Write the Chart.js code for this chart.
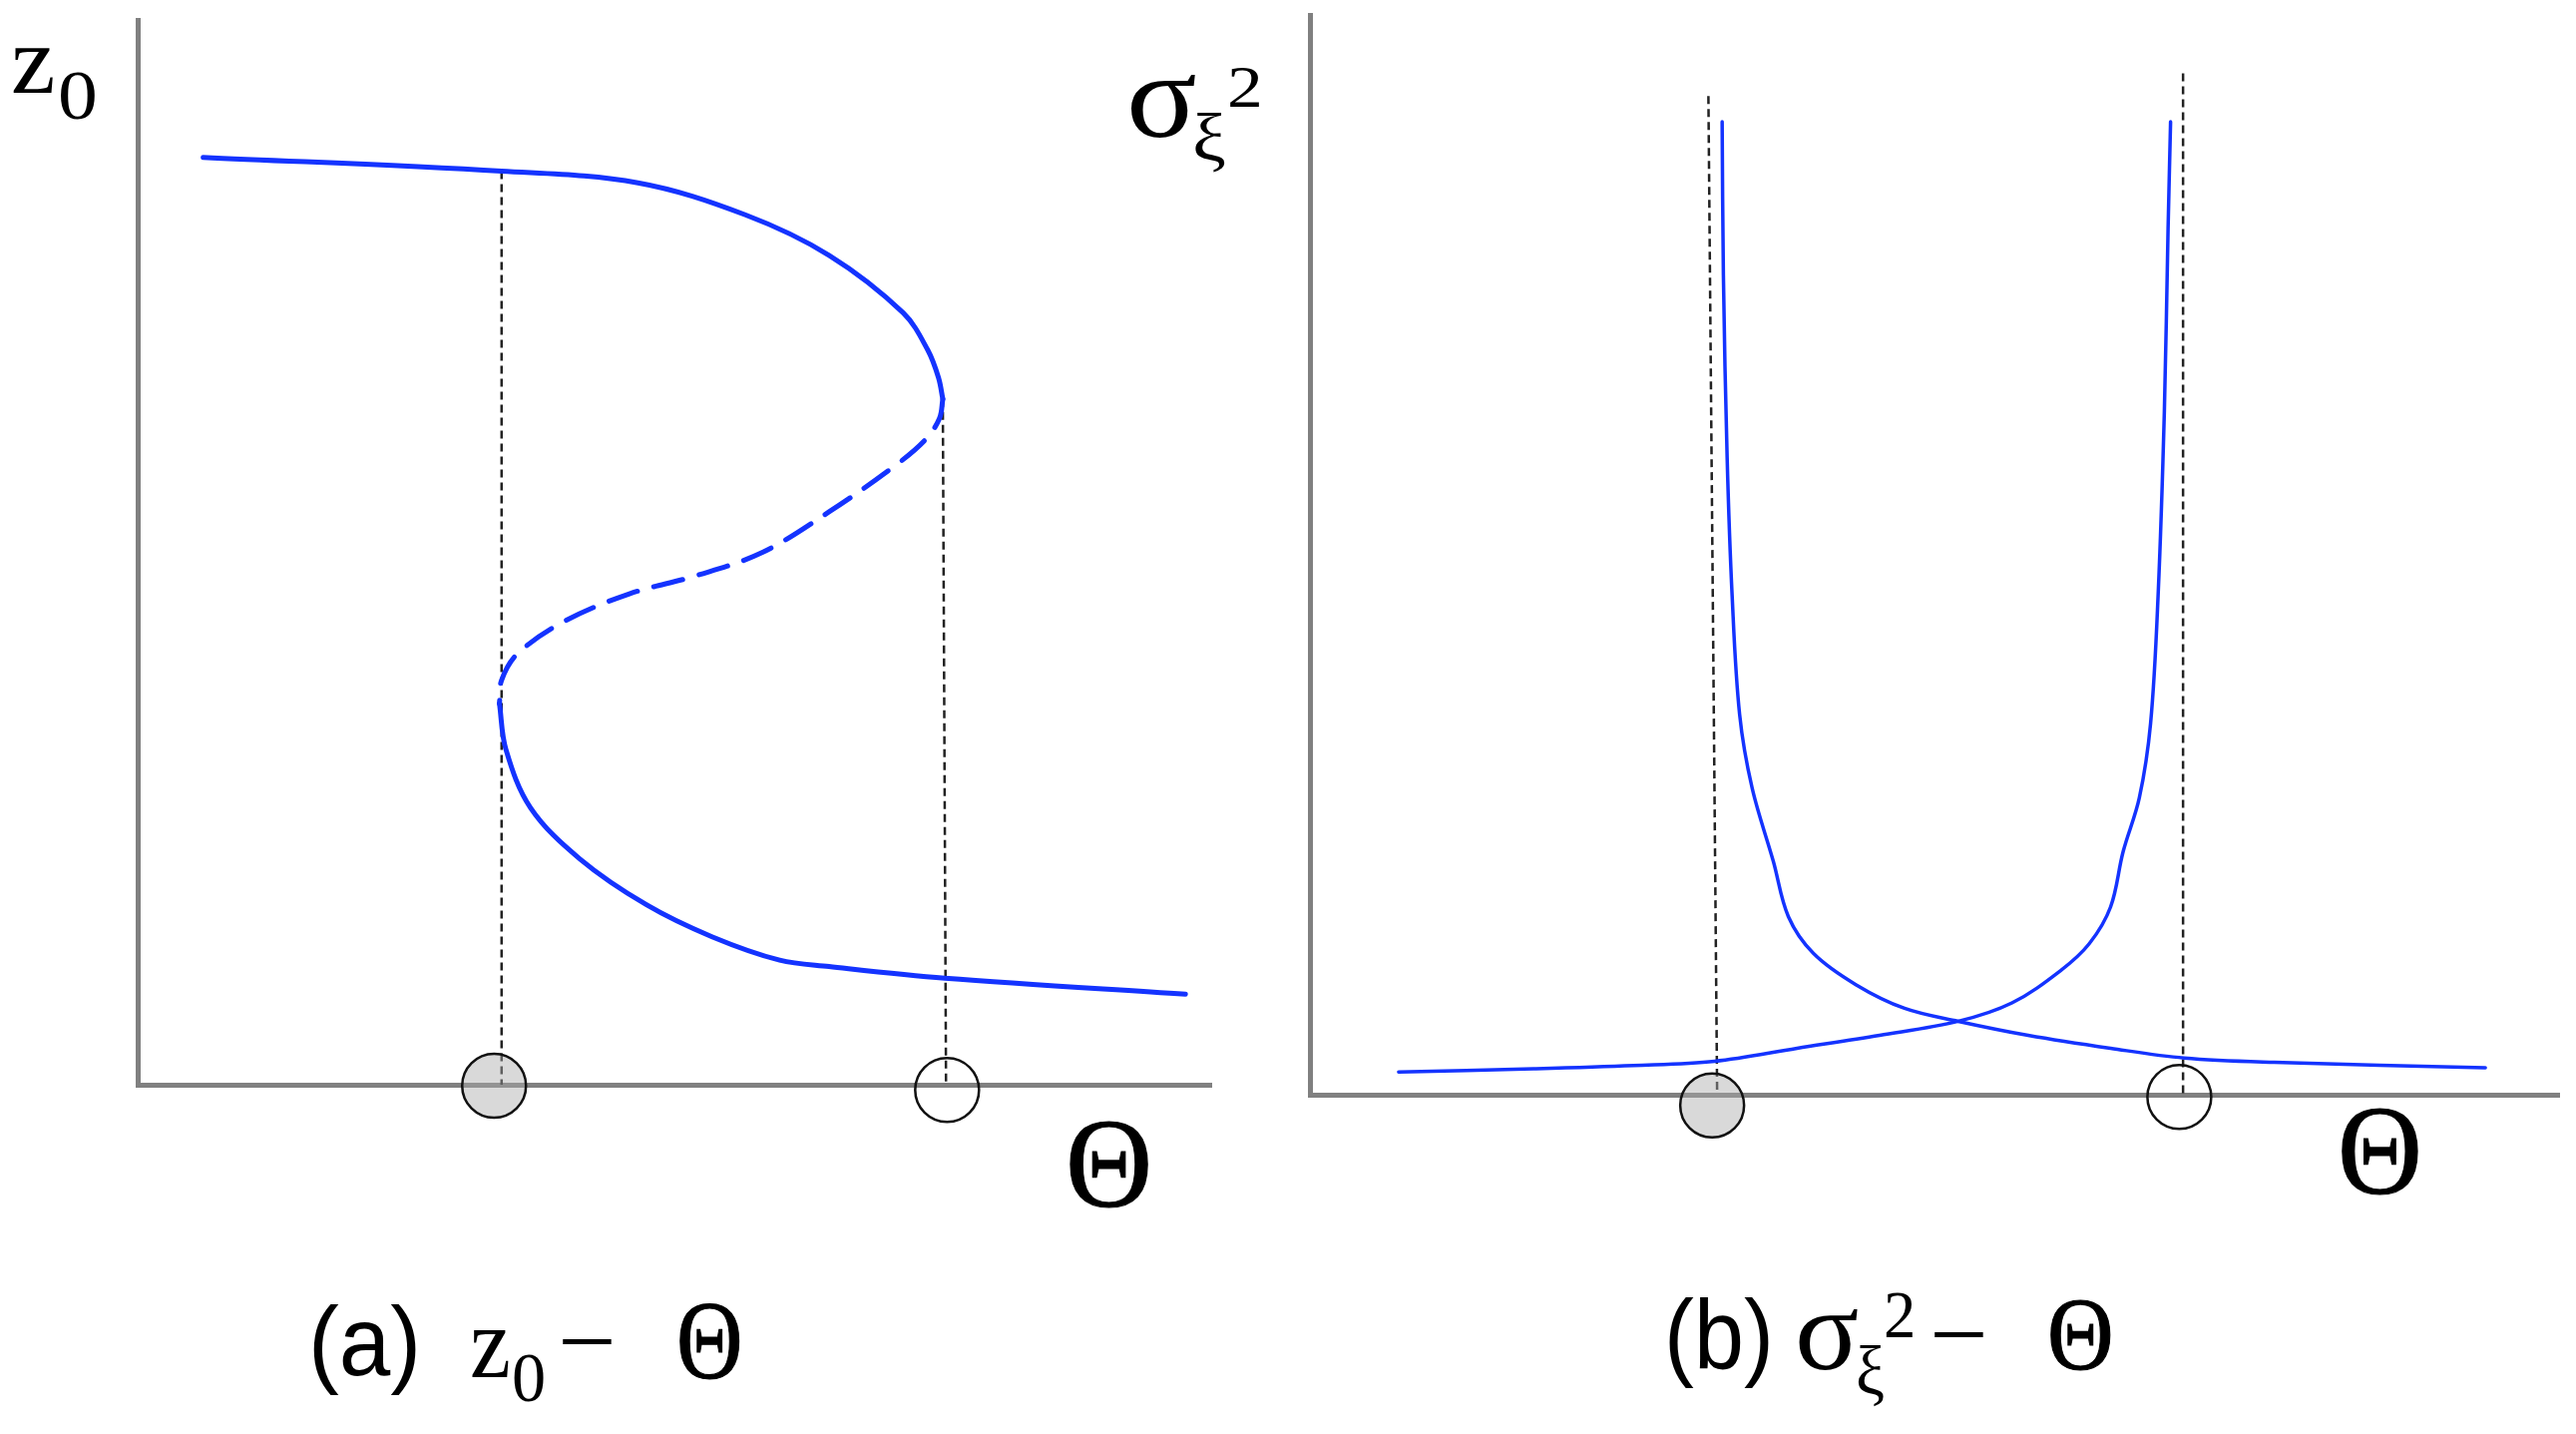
<!DOCTYPE html>
<html>
<head>
<meta charset="utf-8">
<script src="https://cdn.jsdelivr.net/npm/chart.js@4.4.1/dist/chart.umd.min.js"></script>
<style>
html,body{margin:0;padding:0;background:#fff;}
#wrap{position:relative;width:2582px;height:1437px;overflow:hidden;background:#fff;}
#wrap canvas{position:absolute;left:0;top:0;width:2582px;height:1437px;}
.t{position:absolute;white-space:pre;color:#000;transform-origin:0 0;margin:0;padding:0;}
.heavy{-webkit-text-stroke:1.2px #000;}
</style>
</head>
<body>
<div id="wrap">
<canvas id="chartA" width="2582" height="1437"></canvas>
<canvas id="chartB" width="2582" height="1437"></canvas>
</div>
<script>
// ---------- Panel (a): z0 versus Theta ----------
const upperTheta = [0.61, 3.39, 4.66, 5.66, 6.44, 7.13, 7.36, 7.46, 7.50];
const upperZ     = [8.71, 8.58, 8.47, 8.17, 7.79, 7.25, 6.90, 6.64, 6.44];

const midTheta = [7.50, 7.47, 7.34, 7.05, 6.44, 5.82, 5.20, 4.58, 3.97, 3.54, 3.39, 3.37];
const midZ     = [6.44, 6.26, 6.06, 5.81, 5.38, 5.00, 4.78, 4.61, 4.35, 4.05, 3.80, 3.58];

const lowerTheta = [3.37, 3.43, 3.66, 4.12, 4.74, 5.35, 5.98, 6.44, 7.52, 9.76];
const lowerZ     = [3.58, 3.15, 2.60, 2.12, 1.69, 1.39, 1.17, 1.11, 1.00, 0.85];

const guideATheta = [3.39, 3.39];
const guideAZ     = [8.58, 0.00];
const guideBTheta = [7.50, 7.53];
const guideBZ     = [6.44, 0.00];

const markTheta = [3.32, 7.54];
const markZ     = [-0.01, -0.05];

// ---------- Panel (b): sigma_xi^2 versus Theta ----------
const decTheta = [3.30, 3.31, 3.34, 3.38, 3.44, 3.54, 3.71, 3.83, 4.03, 4.37, 4.76, 5.19, 5.75, 6.41, 7.00, 7.72, 9.41];
const decSigma = [9.01, 7.59, 5.90, 4.62, 3.52, 2.84, 2.16, 1.65, 1.31, 1.02, 0.80, 0.68, 0.55, 0.43, 0.34, 0.30, 0.25];

const incTheta = [0.71, 1.79, 2.59, 3.24, 3.90, 4.56, 5.19, 5.62, 6.01, 6.24, 6.41, 6.51, 6.64, 6.73, 6.79, 6.84, 6.87, 6.89];
const incSigma = [0.21, 0.24, 0.27, 0.31, 0.43, 0.55, 0.68, 0.85, 1.15, 1.40, 1.74, 2.25, 2.75, 3.44, 4.62, 6.32, 8.02, 9.01];

const guideCTheta = [3.19, 3.26];
const guideCSigma = [9.25, 0.00];
const guideDTheta = [6.99, 6.99];
const guideDSigma = [9.46, 0.00];

const markBTheta = [3.22, 6.96];
const markBSigma = [-0.10, -0.02];

// ---------- Helpers ----------
const BLUE = '#1433ff';
const zip = (xs, ys) => xs.map((x, i) => ({x: x, y: ys[i]}));

function curve(xs, ys, width, dash) {
  return {
    data: zip(xs, ys), showLine: true, borderColor: BLUE, borderWidth: width,
    borderDash: dash || [], pointRadius: 0, tension: 0.35, clip: false,
    borderCapStyle: 'round', borderJoinStyle: 'round'
  };
}
function guide(xs, ys) {
  return {
    data: zip(xs, ys), showLine: true, borderColor: '#222', borderWidth: 2.5,
    borderDash: [8, 5], pointRadius: 0, tension: 0, clip: false
  };
}
function marks(xs, ys) {
  return {
    data: zip(xs, ys), showLine: false, pointRadius: 32, pointHoverRadius: 32,
    pointBackgroundColor: ['rgba(170,170,170,0.45)', 'rgba(255,255,255,0)'],
    pointBorderColor: '#111', pointBorderWidth: 2.5, clip: false
  };
}
function axisOpts() {
  return {
    type: 'linear', min: 0, max: 10,
    ticks: {display: false},
    grid: {display: false, drawTicks: false},
    border: {display: true, color: '#808080', width: 5}
  };
}
function makeChart(id, pad, datasets) {
  return new Chart(document.getElementById(id), {
    type: 'scatter',
    data: {datasets: datasets},
    options: {
      responsive: false, animation: false, devicePixelRatio: 1, events: [],
      layout: {padding: pad, autoPadding: false},
      plugins: {legend: {display: false}, tooltip: {enabled: false}, title: {display: false}},
      scales: {x: axisOpts(), y: axisOpts()}
    }
  });
}

makeChart('chartA', {left: 138, top: 20, right: 2582 - 1214, bottom: 1437 - 1087}, [
  marks(markTheta, markZ),
  curve(upperTheta, upperZ, 5),
  curve(midTheta, midZ, 5, [30, 17]),
  curve(lowerTheta, lowerZ, 5),
  guide(guideATheta, guideAZ),
  guide(guideBTheta, guideBZ)
]);

makeChart('chartB', {left: 1313, top: 15, right: 2582 - 2565, bottom: 1437 - 1097}, [
  marks(markBTheta, markBSigma),
  curve(decTheta, decSigma, 3.5),
  curve(incTheta, incSigma, 3.5),
  guide(guideCTheta, guideCSigma),
  guide(guideDTheta, guideDSigma)
]);

// ---------- Text (real DOM text, fitted to ink boxes) ----------
const wrap = document.getElementById('wrap');
const mctx = document.createElement('canvas').getContext('2d');
const SERIF = '"Liberation Serif", "Times New Roman", serif';
const SANS = '"Liberation Sans", Arial, sans-serif';

function fit(text, family, weight, x0, y0, x1, y1, fixedSize, cls) {
  mctx.font = weight + ' 100px ' + family;
  let m = mctx.measureText(text);
  let size = fixedSize || 100 * (y1 - y0) / (m.actualBoundingBoxAscent + m.actualBoundingBoxDescent);
  const font = weight + ' ' + size + 'px ' + family;
  mctx.font = font;
  m = mctx.measureText(text);
  const inkW = m.actualBoundingBoxLeft + m.actualBoundingBoxRight;
  const sx = (x1 - x0) / inkW;
  const asc = m.fontBoundingBoxAscent, desc = m.fontBoundingBoxDescent;
  const baseline = y0 + m.actualBoundingBoxAscent;
  const el = document.createElement('div');
  el.className = 't' + (cls ? ' ' + cls : '');
  el.textContent = text;
  el.style.font = font;
  el.style.lineHeight = (asc + desc) + 'px';
  el.style.height = (asc + desc) + 'px';
  el.style.left = (x0 + m.actualBoundingBoxLeft * sx) + 'px';
  el.style.top = (baseline - asc) + 'px';
  el.style.transform = 'scaleX(' + sx + ')';
  wrap.appendChild(el);
}

// y-axis label of panel (a)
fit('z', SERIF, 400, 13, 48, 53, 93);
fit('0', SERIF, 400, 60, 72, 95, 120);
// y-axis label of panel (b)
fit('σ', SERIF, 400, 1133, 75, 1198, 138);
fit('ξ', SERIF, 400, 1198, 113, 1227, 173);
fit('2', SERIF, 400, 1232, 68, 1262, 108);
// x-axis labels
fit('Θ', SERIF, 400, 1073, 1124, 1151, 1209, 0, 'heavy');
fit('Θ', SERIF, 400, 2348, 1111, 2424, 1196, 0, 'heavy');
// caption (a)
fit('(a)', SANS, 400, 315, 1307, 417, 1400);
fit('z', SERIF, 400, 473, 1333, 510, 1380);
fit('0', SERIF, 400, 515, 1357, 545, 1405);
fit('−', SERIF, 400, 563, 1342, 613, 1350, 100);
fit('Θ', SERIF, 400, 681, 1306, 741, 1381, 0, 'heavy');
// caption (b)
fit('(b)', SANS, 400, 1673, 1300, 1772, 1393);
fit('σ', SERIF, 400, 1803, 1312, 1862, 1373);
fit('ξ', SERIF, 400, 1863, 1348, 1888, 1410);
fit('2', SERIF, 400, 1890, 1295, 1917, 1340);
fit('−', SERIF, 400, 1938, 1335, 1988, 1342, 100);
fit('Θ', SERIF, 400, 2056, 1303, 2116, 1372, 0, 'heavy');
</script>
</body>
</html>
